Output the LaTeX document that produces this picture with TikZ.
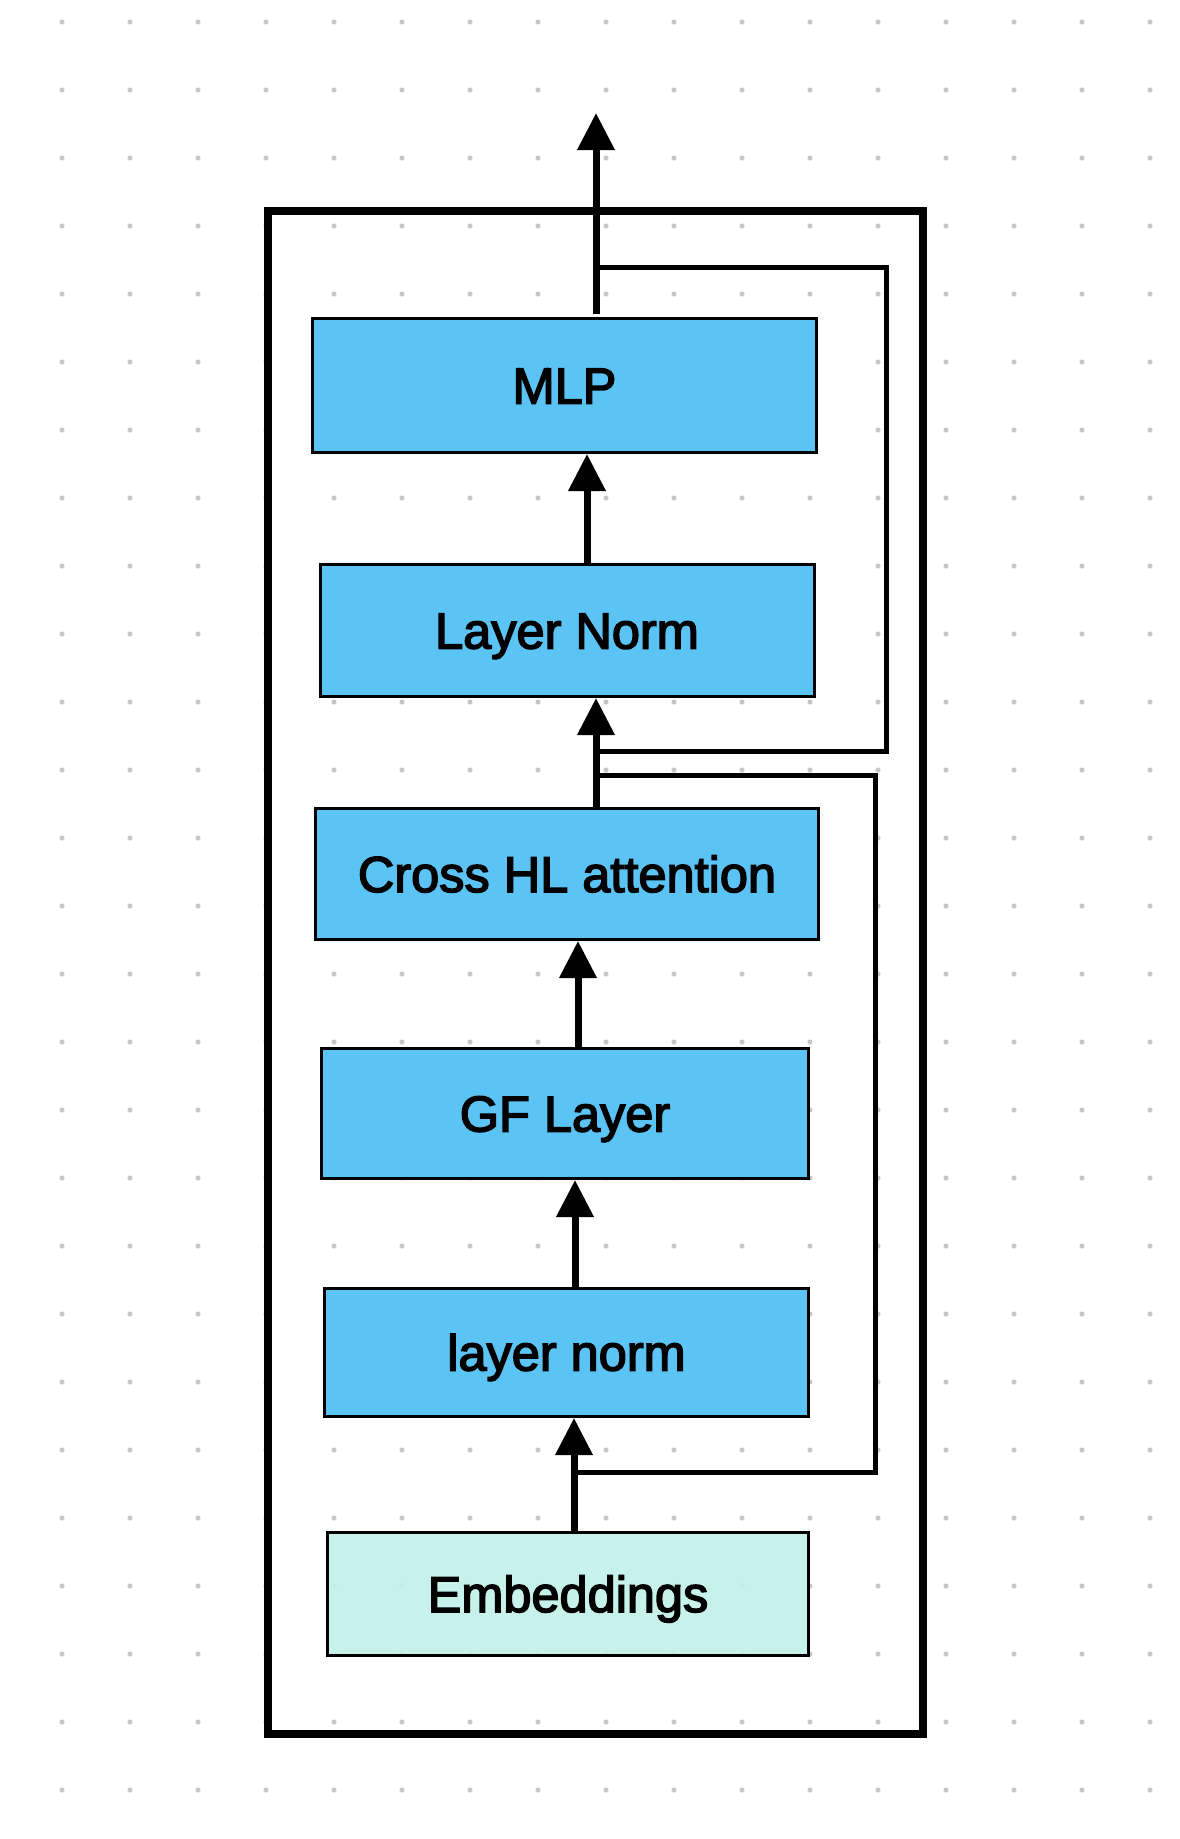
\documentclass[tikz,border=0pt]{standalone}
\usepackage{fontspec}
\setmainfont{Liberation Sans}[FakeBold=3]
\usetikzlibrary{arrows.meta,calc}
\definecolor{blu}{HTML}{5BC4F5}
\definecolor{emb}{HTML}{C2F1E9}
\definecolor{dotc}{HTML}{C8C8C8}
\begin{document}
\begin{tikzpicture}[x=1pt,y=1pt,
  blk/.style={draw=black,line width=3pt,fill=blu,inner sep=0pt,
    text height=36pt,text depth=0pt,font=\fontsize{50.5}{60}\selectfont},
  flow/.style={line width=7pt,-{Triangle[length=37pt,width=36pt]}},
  resid/.style={line width=5pt,line join=miter}]
\useasboundingbox (0,0) rectangle (1179,-1839);
\fill[white] (0,0) rectangle (1179,-1839);
% dot grid
\foreach \i in {0,...,16}
  \foreach \j in {0,...,26}
    \fill[dotc] (62+68*\i,-22-68*\j) circle (2.6);
% outer frame
\draw[line width=8pt] (268,-211) rectangle (923,-1734);
% blocks
\node[blk,minimum width=504pt,minimum height=134pt] (mlp)   at (564.5,-385.5) {MLP};
\node[blk,minimum width=494pt,minimum height=132pt] (ln)    at (567,-630.5) {Layer Norm};
\node[blk,minimum width=503pt,minimum height=131pt] (cross) at (567,-874) {Cross HL attention};
\node[blk,minimum width=487pt,minimum height=130pt] (gf)    at (565,-1113.5) {GF Layer};
\node[blk,minimum width=484pt,minimum height=128pt] (lnb)   at (566.5,-1352.5) {layer norm};
\node[blk,fill=emb,fill opacity=0.92,text opacity=1,minimum width=481pt,minimum height=123pt] (emb) at (568,-1594) {Embeddings};
% coordinates
\coordinate (out) at (596,-113);
\coordinate (xa) at (587,0);
\coordinate (xb) at (578,0);
\coordinate (xc) at (575,0);
\coordinate (xd) at (574,0);
% residual connections
\coordinate (r1a) at (596,-267);
\coordinate (r1b) at (886,-267);
\coordinate (r1c) at (886,-751);
\coordinate (r1d) at (596,-751);
\draw[resid] (r1a) -- (r1b) -- (r1c) -- (r1d);
\coordinate (r2a) at (596,-775);
\coordinate (r2b) at (875,-775);
\coordinate (r2c) at (875,-1472);
\coordinate (r2d) at (574,-1472);
\draw[resid] (r2a) -- (r2b) -- (r2c) -- (r2d);
% main flow
\draw[flow] ($(mlp.north -| out)+(0,3)$) -- (out);
\draw[flow] (ln.north -| xa) -- (mlp.south -| xa);
\draw[flow] (cross.north -| out) -- (ln.south -| out);
\draw[flow] (gf.north -| xb) -- (cross.south -| xb);
\draw[flow] (lnb.north -| xc) -- (gf.south -| xc);
\draw[flow] (emb.north -| xd) -- (lnb.south -| xd);
\end{tikzpicture}
\end{document}
